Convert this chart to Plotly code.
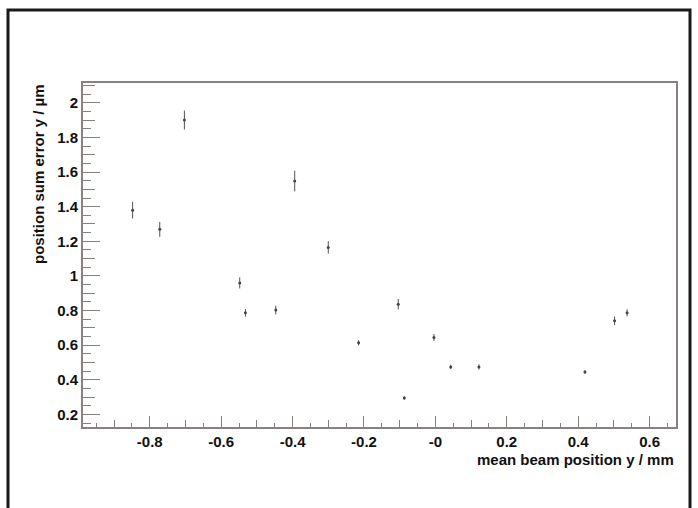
import plotly.graph_objects as go

# mean beam position y [mm] and position sum error y [um] with uncertainties
beam_pos_y = [-0.848, -0.772, -0.703, -0.548, -0.532, -0.447, -0.394, -0.300,
              -0.215, -0.104, -0.087, -0.004, 0.043, 0.122, 0.419, 0.502, 0.537]
sum_error_y = [1.380, 1.269, 1.900, 0.960, 0.787, 0.803, 1.548, 1.165,
               0.614, 0.837, 0.296, 0.645, 0.475, 0.475, 0.446, 0.741, 0.787]
sum_error_unc = [0.048, 0.043, 0.055, 0.032, 0.022, 0.025, 0.060, 0.036,
                 0.015, 0.030, 0.010, 0.020, 0.012, 0.015, 0.010, 0.025, 0.020]

x_tick_vals = [-0.8, -0.6, -0.4, -0.2, 0.0, 0.2, 0.4, 0.6]
x_tick_text = ["-0.8", "-0.6", "-0.4", "-0.2", "-0", "0.2", "0.4", "0.6"]
y_tick_vals = [0.2, 0.4, 0.6, 0.8, 1.0, 1.2, 1.4, 1.6, 1.8, 2.0]
y_tick_text = ["0.2", "0.4", "0.6", "0.8", "1", "1.2", "1.4", "1.6", "1.8", "2"]

X_RANGE = [-0.987, 0.674]
Y_RANGE = [0.128, 2.114]

FRAME = "#8a8080"
FONT = "Liberation Sans, Arial, sans-serif"

fig = go.Figure()
fig.add_trace(go.Scatter(
    x=beam_pos_y, y=sum_error_y,
    mode="markers",
    marker=dict(size=3, color="#444444"),
    error_y=dict(type="data", array=sum_error_unc, color="#555555",
                 thickness=1, width=0),
    showlegend=False, hoverinfo="x+y",
))
# empty trace so the overlay axes carrying the intermediate ticks are drawn
fig.add_trace(go.Scatter(x=[], y=[], xaxis="x2", yaxis="y2", showlegend=False))

fig.update_layout(
    width=698, height=508,
    margin=dict(l=83, r=22, t=83, b=81),
    paper_bgcolor="white", plot_bgcolor="white",
    font=dict(family=FONT, size=14, color="#111111"),
    xaxis=dict(
        range=X_RANGE, showgrid=False, zeroline=False,
        showline=True, linecolor=FRAME, linewidth=2, mirror=True,
        ticks="inside", ticklen=11, tickwidth=1, tickcolor=FRAME,
        tickvals=x_tick_vals, ticktext=x_tick_text,
        tickfont=dict(family=FONT, size=15, color="#111111", weight="bold"),
        minor=dict(dtick=0.05, tick0=0, ticks="inside", ticklen=4,
                   tickcolor=FRAME, tickwidth=1, showgrid=False),
    ),
    yaxis=dict(
        range=Y_RANGE, showgrid=False, zeroline=False,
        showline=True, linecolor=FRAME, linewidth=2, mirror=True,
        ticks="inside", ticklen=17, tickwidth=1, tickcolor=FRAME,
        tickvals=y_tick_vals, ticktext=y_tick_text,
        tickfont=dict(family=FONT, size=15, color="#111111", weight="bold"),
        minor=dict(dtick=0.05, tick0=0, ticks="inside", ticklen=8,
                   tickcolor=FRAME, tickwidth=1, showgrid=False),
    ),
    xaxis2=dict(
        range=X_RANGE, overlaying="x", anchor="y", side="bottom",
        showgrid=False, zeroline=False, showline=False,
        ticks="inside", ticklen=7, tickwidth=1, tickcolor=FRAME,
        tick0=0, dtick=0.1, showticklabels=False,
    ),
    yaxis2=dict(
        range=Y_RANGE, overlaying="y", anchor="x", side="left",
        showgrid=False, zeroline=False, showline=False,
        ticks="inside", ticklen=12, tickwidth=1, tickcolor=FRAME,
        tick0=0, dtick=0.1, showticklabels=False,
    ),
    annotations=[
        dict(text="<b>mean beam position y / mm</b>", xref="paper", yref="paper",
             x=1.0, y=0.0, xanchor="right", yanchor="middle", yshift=-32,
             showarrow=False, font=dict(family=FONT, size=15, color="#111111")),
        dict(text="<b>position sum error y / µm</b>", xref="paper", yref="paper",
             x=0.0, y=1.0, xanchor="center", yanchor="top", xshift=-45, yshift=1,
             textangle=-90, showarrow=False,
             font=dict(family=FONT, size=15, color="#111111")),
    ],
    shapes=[
        # outer canvas border
        dict(type="rect", xref="paper", yref="paper",
             x0=(8 - 83) / 593, x1=(690 - 83) / 593,
             y0=(427 - 515) / 344, y1=(427 - 10) / 344,
             line=dict(color="#1a1a1a", width=3), fillcolor="rgba(0,0,0,0)",
             layer="above"),
    ],
)

fig.write_html("out.html")
